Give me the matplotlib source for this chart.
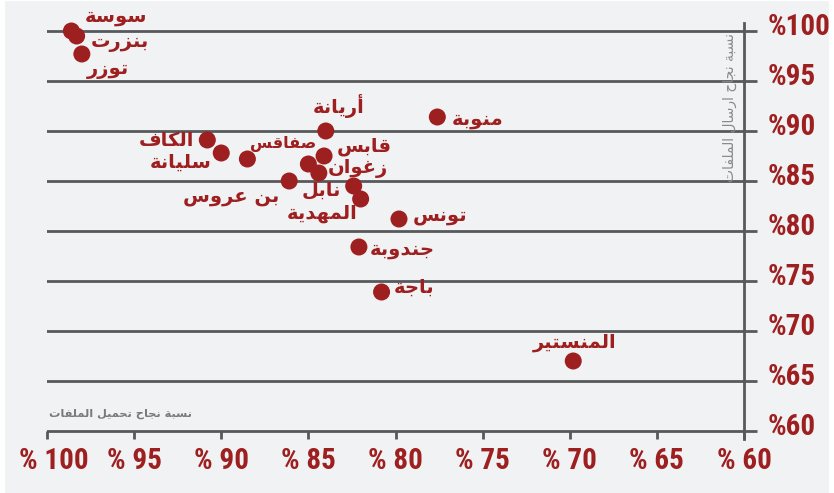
import matplotlib
matplotlib.use("Agg")
import matplotlib.pyplot as plt
import matplotlib.transforms as mtransforms
from matplotlib import font_manager as fm
from matplotlib.patches import Rectangle

# ---------------- data ----------------
names = ["سوسة", "بنزرت", "توزر", "أريانة", "منوبة", "الكاف", "سليانة", "صفاقس",
         "قابس", "", "زغوان", "بن عروس", "نابل", "المهدية", "تونس", "جندوبة",
         "باجة", "المنستير"]
upload = [98.6, 98.3, 98.0, 84.0, 77.6, 90.8, 90.0, 88.5,
          84.1, 85.0, 84.4, 86.1, 82.4, 82.0, 79.8, 82.1,
          80.8, 69.8]
send = [100.0, 99.5, 97.7, 90.0, 91.4, 89.1, 87.8, 87.2,
        87.5, 86.7, 85.8, 85.0, 84.5, 83.2, 81.2, 78.4,
        73.9, 67.0]
ticks = [100, 95, 90, 85, 80, 75, 70, 65, 60]
xtick_labels = ["% " + str(t) for t in ticks]
ytick_labels = ["%" + str(t) for t in ticks]
xlabel_text = "نسبة نجاح تحميل الملفات"
ylabel_text = "نسبة نجاح ارسال الملفات"

# label placement (pixel offsets from point, x right / y up) and font sizes
label_dx = [45, 43, 26, 13, 40, -41, -41, 36, 40, 0, 39, -58, -32, -39, 41, 43, 33, 1]
label_dy = [14, -7, -16, 25, -3, -1, -9, 15, 9, 0, 5, -16, -4, -15, 3, -3, 5, 18]
label_fs = [14, 14, 14, 14, 14, 14, 14, 11.5, 14, 14, 14, 14, 14, 14, 14, 14, 14, 14]

# ---------------- arabic shaping ----------------
FORMS = {
    '\u0621': (0xFE80, 0), '\u0622': (0xFE81, 1), '\u0623': (0xFE83, 1),
    '\u0624': (0xFE85, 1), '\u0625': (0xFE87, 1), '\u0626': (0xFE89, 2),
    '\u0627': (0xFE8D, 1), '\u0628': (0xFE8F, 2), '\u0629': (0xFE93, 1),
    '\u062A': (0xFE95, 2), '\u062B': (0xFE99, 2), '\u062C': (0xFE9D, 2),
    '\u062D': (0xFEA1, 2), '\u062E': (0xFEA5, 2), '\u062F': (0xFEA9, 1),
    '\u0630': (0xFEAB, 1), '\u0631': (0xFEAD, 1), '\u0632': (0xFEAF, 1),
    '\u0633': (0xFEB1, 2), '\u0634': (0xFEB5, 2), '\u0635': (0xFEB9, 2),
    '\u0636': (0xFEBD, 2), '\u0637': (0xFEC1, 2), '\u0638': (0xFEC5, 2),
    '\u0639': (0xFEC9, 2), '\u063A': (0xFECD, 2), '\u0641': (0xFED1, 2),
    '\u0642': (0xFED5, 2), '\u0643': (0xFED9, 2), '\u0644': (0xFEDD, 2),
    '\u0645': (0xFEE1, 2), '\u0646': (0xFEE5, 2), '\u0647': (0xFEE9, 2),
    '\u0648': (0xFEED, 1), '\u0649': (0xFEEF, 1), '\u064A': (0xFEF1, 2),
}
LAM_ALEF = {'\u0622': 0xFEF5, '\u0623': 0xFEF7, '\u0625': 0xFEF9, '\u0627': 0xFEFB}


def shape(s):
    ch = list(s)
    n = len(ch)
    out = []
    i = 0
    while i < n:
        c = ch[i]
        prev_j = i > 0 and ch[i - 1] in FORMS and FORMS[ch[i - 1]][1] == 2
        if c == '\u0644' and i + 1 < n and ch[i + 1] in LAM_ALEF:
            base = LAM_ALEF[ch[i + 1]]
            out.append(chr(base + 1 if prev_j else base))
            i += 2
            continue
        if c not in FORMS:
            out.append(c)
            i += 1
            continue
        base, t = FORMS[c]
        if t == 0:
            out.append(chr(base))
            i += 1
            continue
        next_j = t == 2 and i + 1 < n and ch[i + 1] in FORMS
        if prev_j and next_j:
            g = base + 3
        elif prev_j:
            g = base + 1
        elif next_j:
            g = base + 2
        else:
            g = base
        out.append(chr(g))
        i += 1
    return ''.join(reversed(out))


# pick a bold condensed font for the tick numbers if one is installed
def _w(v):
    if isinstance(v, str):
        return fm.weight_dict.get(v, 400)
    return int(v)


bold_narrow = {}
for f in fm.fontManager.ttflist:
    if ("Narrow" in f.name or "Condensed" in f.name) and _w(f.weight) >= 700:
        bold_narrow[f.name] = f
pref = ["Liberation Sans Narrow", "Roboto Condensed", "Arial Narrow",
        "Open Sans Condensed", "DejaVu Sans Condensed"]
chosen = None
for p in pref:
    if p in bold_narrow:
        chosen = p
        break
if chosen is None and bold_narrow:
    chosen = sorted(bold_narrow)[0]
if chosen:
    tick_family = [chosen, "Liberation Sans", "DejaVu Sans"]
    tick_size = 21
else:
    tick_family = ["Liberation Sans", "DejaVu Sans"]
    tick_size = 18.5

# ---------------- figure ----------------
RED = "#9e1f1f"
GRID = "#58595b"
BG = "#f1f2f4"
W, H = 834, 493
fig = plt.figure(figsize=(W / 100, H / 100), dpi=100)
fig.patch.set_facecolor("white")
fig.add_artist(Rectangle((5 / W, 0), (829 - 5) / W, 1 - 1 / H,
                         transform=fig.transFigure, facecolor=BG,
                         edgecolor="none", zorder=-10))

left, right = 47 / W, 744 / W
y_top_px, y_bot_px = 23, 439
ax = fig.add_axes([left, 1 - y_bot_px / H, right - left, (y_bot_px - y_top_px) / H])
ax.set_facecolor("none")
ax.set_xlim(100, 60)
ax.set_ylim(60 - 0.8, 100 + 0.8)

for s in ["left", "top", "bottom"]:
    ax.spines[s].set_visible(False)
ax.spines["right"].set_color(GRID)
ax.spines["right"].set_linewidth(2)

ax.set_yticks(ticks)
ax.set_yticklabels(ytick_labels)
ax.yaxis.tick_right()
ax.yaxis.grid(True, color=GRID, linewidth=2)
ax.set_axisbelow(True)
ax.tick_params(axis="y", direction="out", length=9, width=2, color=GRID,
               pad=8, labelsize=tick_size, labelcolor=RED)

ax.set_xticks(ticks)
ax.set_xticklabels(xtick_labels)
ax.tick_params(axis="x", direction="in", length=5.8, width=2, color=GRID,
               pad=6, labelsize=tick_size, labelcolor=RED)

for lab in ax.get_xticklabels() + ax.get_yticklabels():
    lab.set_fontfamily(tick_family)
    lab.set_fontweight("bold")

off_y = mtransforms.ScaledTranslation(0, 7 / 100, fig.dpi_scale_trans)
for t in ax.yaxis.get_major_ticks():
    t.label2.set_transform(t.label2.get_transform() + off_y)
off_x = mtransforms.ScaledTranslation(7 / 100, 0, fig.dpi_scale_trans)
xt = ax.xaxis.get_major_ticks()
xt[0].label1.set_transform(xt[0].label1.get_transform() + off_x)

ax.scatter(upload, send, s=150, color=RED, edgecolors="none", zorder=3,
           clip_on=False)

for nm, x, y, dx, dy, fs in zip(names, upload, send, label_dx, label_dy, label_fs):
    if not nm:
        continue
    ax.annotate(shape(nm), (x, y), xytext=(dx, dy), textcoords="offset pixels",
                ha="center", va="center", color=RED, fontsize=fs,
                fontweight="bold", family=["DejaVu Sans"], zorder=4)

fig.text(120 / W, 1 - 414 / H, shape(xlabel_text), ha="center", va="center",
         color="#7a7a7a", fontsize=8.2, fontweight="bold", family=["DejaVu Sans"])
fig.text(730 / W, 1 - 107 / H, shape(ylabel_text), ha="center", va="center",
         rotation=90, color="#8a8a8a", fontsize=10, family=["DejaVu Sans"])

fig.savefig("out.png", dpi=100, facecolor=fig.get_facecolor())
